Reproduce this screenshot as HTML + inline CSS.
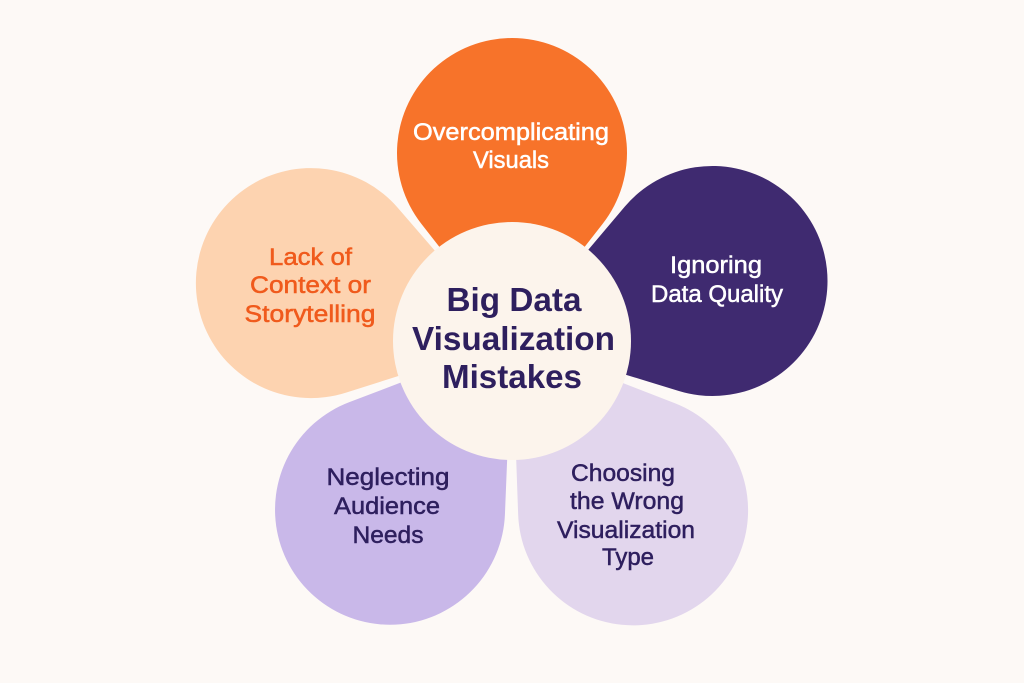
<!DOCTYPE html>
<html>
<head>
<meta charset="utf-8">
<style>
  html, body { margin:0; padding:0; background:#fdf9f6; }
  body { width:1024px; height:683px; overflow:hidden; }
  svg { display:block; }
  text { font-family: "Liberation Sans", "DejaVu Sans", sans-serif; }
</style>
</head>
<body>
<svg width="1024" height="683" viewBox="0 0 1024 683" xmlns="http://www.w3.org/2000/svg">
  <rect x="0" y="0" width="1024" height="683" fill="#fdf9f6"/>

  <!-- Peach petal (upper-left) -->
  <path transform="translate(512,340) rotate(-74.2)" d="M0,0 L-96,-145.7 A115 115 0 1 1 96,-145.7 Z" fill="#fdd3b0"/>
  <!-- Lower-left lavender petal -->
  <path transform="translate(512,340) rotate(-144.3)" d="M0,0 L-96,-145.7 A115 115 0 1 1 96,-145.7 Z" fill="#c9b8e9"/>
  <!-- Lower-right light lavender petal -->
  <path transform="translate(512,340) rotate(144.6)" d="M0,0 L-96,-145.7 A115 115 0 1 1 96,-145.7 Z" fill="#e2d6ed"/>
  <!-- Upper-right dark purple petal -->
  <path transform="translate(512,340) rotate(73.6)" d="M0,0 L-96,-145.7 A115 115 0 1 1 96,-145.7 Z" fill="#3f2a70"/>
  <!-- Top orange petal -->
  <path transform="translate(512,340)" d="M0,0 L-90.7,-116.3 A115 115 0 1 1 90.7,-116.3 Z" fill="#f7732a"/>

  <!-- Center circle -->
  <circle cx="512" cy="341" r="119" fill="#fcf4ec"/>

  <!-- Center title -->
  <g fill="#2e1f5e" font-weight="bold" font-size="33" text-anchor="middle">
    <text x="514" y="311" textLength="135" lengthAdjust="spacingAndGlyphs">Big Data</text>
    <text x="513.5" y="350" textLength="203" lengthAdjust="spacingAndGlyphs">Visualization</text>
    <text x="512" y="388" textLength="140" lengthAdjust="spacingAndGlyphs">Mistakes</text>
  </g>

  <!-- Orange petal text -->
  <g fill="#ffffff" stroke="#ffffff" stroke-width="0.5" font-size="24" text-anchor="middle">
    <text x="511" y="140" textLength="196" lengthAdjust="spacingAndGlyphs">Overcomplicating</text>
    <text x="511" y="168" textLength="76" lengthAdjust="spacingAndGlyphs">Visuals</text>
  </g>

  <!-- Peach petal text -->
  <g fill="#f05a1c" stroke="#f05a1c" stroke-width="0.5" font-size="24" text-anchor="middle">
    <text x="310.5" y="265" textLength="83" lengthAdjust="spacingAndGlyphs">Lack of</text>
    <text x="310.5" y="293" textLength="121" lengthAdjust="spacingAndGlyphs">Context or</text>
    <text x="310" y="322" textLength="131" lengthAdjust="spacingAndGlyphs">Storytelling</text>
  </g>

  <!-- Purple petal text -->
  <g fill="#ffffff" stroke="#ffffff" stroke-width="0.5" font-size="24" text-anchor="middle">
    <text x="716" y="273" textLength="92" lengthAdjust="spacingAndGlyphs">Ignoring</text>
    <text x="717" y="302" textLength="132" lengthAdjust="spacingAndGlyphs">Data Quality</text>
  </g>

  <!-- Lower-left petal text -->
  <g fill="#2e1f5e" stroke="#2e1f5e" stroke-width="0.5" font-size="24" text-anchor="middle">
    <text x="388" y="485" textLength="123" lengthAdjust="spacingAndGlyphs">Neglecting</text>
    <text x="387" y="514" textLength="106" lengthAdjust="spacingAndGlyphs">Audience</text>
    <text x="388" y="543" textLength="71" lengthAdjust="spacingAndGlyphs">Needs</text>
  </g>

  <!-- Lower-right petal text -->
  <g fill="#2e1f5e" stroke="#2e1f5e" stroke-width="0.5" font-size="24" text-anchor="middle">
    <text x="623" y="481" textLength="104" lengthAdjust="spacingAndGlyphs">Choosing</text>
    <text x="627" y="509" textLength="114" lengthAdjust="spacingAndGlyphs">the Wrong</text>
    <text x="626" y="538" textLength="138" lengthAdjust="spacingAndGlyphs">Visualization</text>
    <text x="628" y="565" textLength="52" lengthAdjust="spacingAndGlyphs">Type</text>
  </g>
</svg>
</body>
</html>
